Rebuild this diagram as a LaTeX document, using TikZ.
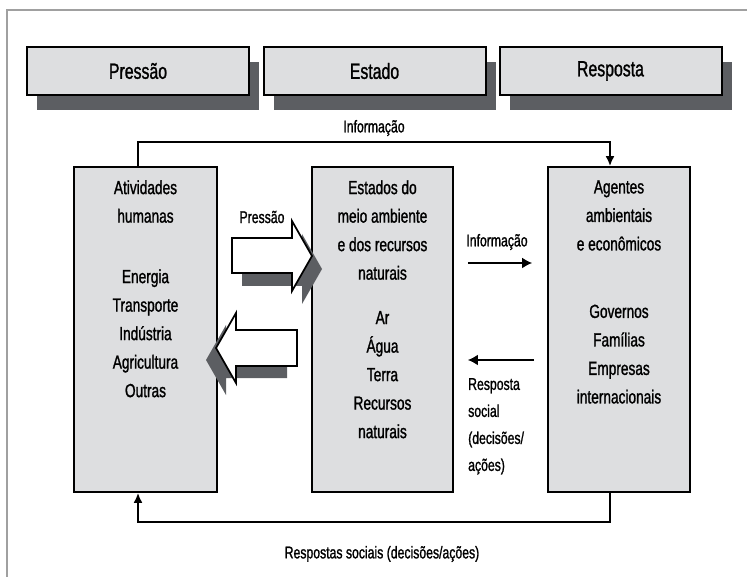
\documentclass[tikz,border=0pt]{standalone}
\usepackage{fontspec}
\setmainfont{Liberation Sans}[FakeStretch=0.72, FakeBold=1.2]
\usetikzlibrary{positioning, arrows.meta, shadows}
\definecolor{panelgray}{RGB}{221,222,224}
\definecolor{shadowgray}{RGB}{92,94,98}
\definecolor{framegray}{RGB}{160,160,160}
\tikzset{
  headbox/.style={draw, line width=2pt, fill=panelgray, minimum width=222pt, minimum height=48pt,
    font=\fontsize{22}{26}\selectfont,
    drop shadow={shadow xshift=10pt, shadow yshift=-15pt, fill=shadowgray, opacity=1}},
  panel/.style={draw, line width=1.7pt, fill=panelgray, minimum width=143pt, minimum height=325pt},
  paneltext/.style={anchor=north, inner sep=0pt, align=center, font=\fontsize{19}{28.5}\selectfont},
  lbl/.style={inner sep=0pt, font=\fontsize{17}{27}\selectfont},
  link/.style={line width=2pt, -{Latex[length=10pt,width=9pt]}},
  flow/.style={line width=2.4pt, -{Latex[length=10pt,width=11pt]}},
  bigarrow/.style={fill=white, draw, line width=1.7pt, line join=miter},
}

\begin{document}
\begin{tikzpicture}[x=1pt, y=-1pt]
\useasboundingbox (0,0) rectangle (747,577);
\draw[framegray, line width=1.8pt] (7,577) -- (7,10) -- (747,10); % moldura

% cabecalhos
\node[headbox] (pressao) at (138,71) {Pressão};
\node[headbox] (estado) at (374.5,71) {Estado};
\node[headbox] (resposta) at (610.5,71) {Resposta};

% caixas
\node[panel] (ativ) at (145.5,329.5) {};
\node[panel, minimum width=141pt] (meio) at (382.5,329.5) {};
\node[panel, minimum width=142pt] (agentes) at (619,329.5) {};

\node[paneltext] (ativtxt) at ([yshift=-14pt]ativ.north)
  {Atividades\\humanas\\[32pt]Energia\\Transporte\\Indústria\\Agricultura\\Outras};
\node[paneltext] (meiotxt) at ([yshift=-14pt]meio.north)
  {Estados do\\meio ambiente\\e dos recursos\\naturais\\[16pt]Ar\\Água\\Terra\\Recursos\\naturais};
\node[paneltext] (agentestxt) at ([yshift=-14pt]agentes.north)
  {Agentes\\ambientais\\e econômicos\\[39pt]Governos\\Famílias\\Empresas\\internacionais};

% setas largas
\fill[shadowgray, shift={(10,13)}] (232,238) -- (292,238) -- (292,221) -- (312,256)
  -- (292,291) -- (292,273) -- (232,273) -- cycle;
\draw[bigarrow] (232,238) -- (292,238) -- (292,221) -- (312,256)
  -- (292,291) -- (292,273) -- (232,273) -- cycle;
\fill[shadowgray, shift={(-10,12)}] (297,330) -- (236,330) -- (236,313) -- (216,348)
  -- (236,383) -- (236,366) -- (297,366) -- cycle;
\draw[bigarrow] (297,330) -- (236,330) -- (236,313) -- (216,348)
  -- (236,383) -- (236,366) -- (297,366) -- cycle;
\node[lbl] (presslbl) at (262,217) {Pressão};

% setas entre estado e agentes
\draw[flow] ([shift={(14,-66.5)}]meio.east) -- ([shift={(-15,-66.5)}]agentes.west);
\draw[flow] ([shift={(-13,30.5)}]agentes.west) -- ([shift={(14,30.5)}]meio.east);
\node[lbl] (infolbl) at (497,242) {Informação};
\node[lbl, align=left, anchor=north west] (sociallbl) at (468,378)
  {Resposta\\social\\(decisões/\\ações)};

% ligacoes externas
\draw[link] ([xshift=-7.5pt]ativ.north) -- ++(0,-24) -| ([xshift=-9pt]agentes.north);
\draw[link] ([xshift=-9pt]agentes.south) -- ++(0,29) -| ([xshift=-7.5pt]ativ.south);
\node[lbl] (toplbl) at (374,128) {Informação};
\node[lbl] (botlbl) at (382,554) {Respostas sociais (decisões/ações)};
\end{tikzpicture}
\end{document}
